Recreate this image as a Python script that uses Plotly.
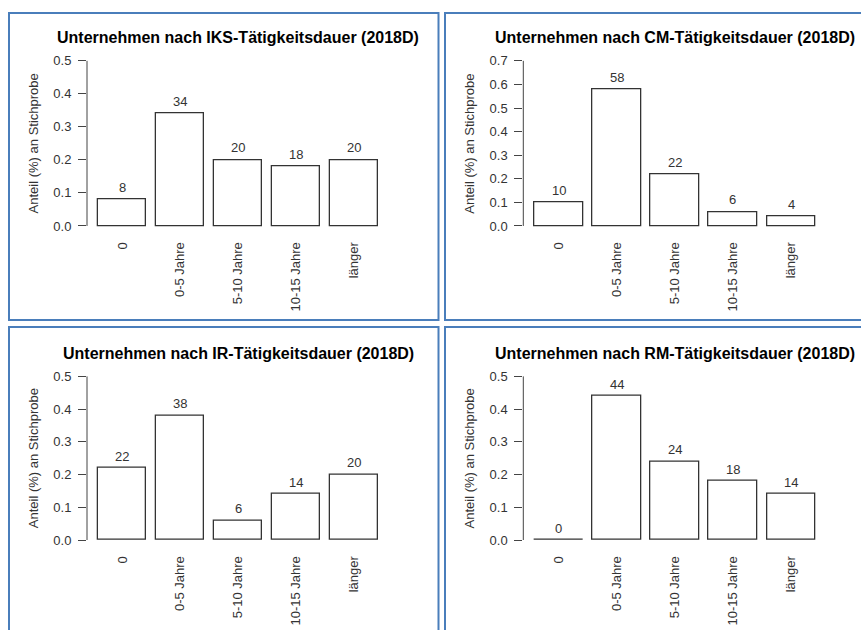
import plotly.graph_objects as go

W, H = 861, 630

categories = ["0", "0-5 Jahre", "5-10 Jahre", "10-15 Jahre", "länger"]
titles = [
    "Unternehmen nach IKS-Tätigkeitsdauer (2018D)",
    "Unternehmen nach CM-Tätigkeitsdauer (2018D)",
    "Unternehmen nach IR-Tätigkeitsdauer (2018D)",
    "Unternehmen nach RM-Tätigkeitsdauer (2018D)",
]
iks_pct = [8, 34, 20, 18, 20]
cm_pct = [10, 58, 22, 6, 4]
ir_pct = [22, 38, 6, 14, 20]
rm_pct = [0, 44, 24, 18, 14]
series = [iks_pct, cm_pct, ir_pct, rm_pct]
y_max = [0.5, 0.7, 0.5, 0.5]
y_title = "Anteil (%) an Stichprobe"

# pixel layout: plot regions (left, right, top, bottom) and panel frames
plot_boxes = [(87, 389, 53.4, 232.3), (523.3, 826.5, 53.4, 232.3),
              (87, 389, 370.0, 547.3), (523.3, 826.5, 370.0, 547.3)]
frames = [(9, 12, 438.5, 320), (445, 12, 875, 320),
          (9, 327, 438.5, 645), (445, 327, 875, 645)]

FONT = "Liberation Sans, Arial, sans-serif"
TXT = "#333333"
LINE = "#444444"
BORDER = "#4a7ebb"


def px(x):
    return x / W


def py(y):
    return 1 - y / H


fig = go.Figure()
shapes = []
annotations = []

for k in range(4):
    sfx = "" if k == 0 else str(k + 1)
    xa, ya = "x" + sfx, "y" + sfx
    l, r, t, b = plot_boxes[k]
    vals = [v / 100 for v in series[k]]
    ymax = y_max[k]

    fig.add_trace(go.Bar(
        x=categories, y=vals, xaxis=xa, yaxis=ya,
        width=1 / 1.2,
        marker=dict(color="white", line=dict(color="#333333", width=1.3)),
        showlegend=False, hoverinfo="x+y",
    ))

    ticks = [round(i * 0.1, 1) for i in range(int(round(ymax * 10)) + 1)]
    fig.layout["xaxis" + sfx] = dict(
        domain=[px(l), px(r)], anchor=ya, type="category",
        range=[-0.61, 4.61], showgrid=False, zeroline=False, showline=False,
        ticks="", tickangle=-90, tickfont=dict(family=FONT, size=13, color=TXT),
        ticklabelstandoff=6, fixedrange=True,
    )
    fig.layout["yaxis" + sfx] = dict(
        domain=[py(b), py(t)], anchor=xa,
        range=[-0.04 * ymax, 1.04 * ymax], showgrid=False, zeroline=False,
        showline=False, ticks="outside", ticklen=8, tickwidth=1, tickcolor=LINE,
        tickvals=ticks, ticktext=[f"{v:.1f}" for v in ticks],
        tickfont=dict(family=FONT, size=13, color=TXT),
        ticklabelstandoff=4, fixedrange=True,
    )

    # y axis line from 0 to max tick (R style)
    shapes.append(dict(type="line", xref=xa + " domain", yref=ya,
                       x0=0, x1=0, y0=0, y1=ymax,
                       line=dict(color=LINE, width=1)))

    # value labels above bars
    for c, v, p in zip(categories, vals, series[k]):
        annotations.append(dict(x=c, y=v, xref=xa, yref=ya, text=str(p),
                                showarrow=False, yanchor="middle", yshift=12,
                                font=dict(family=FONT, size=13, color=TXT)))

    # title
    annotations.append(dict(x=px((l + r) / 2), y=py(t - 16.5), xref="paper", yref="paper",
                            text="<b>" + titles[k] + "</b>", showarrow=False,
                            xanchor="center", yanchor="middle",
                            font=dict(family=FONT, size=16, color="#000000")))
    # y axis title
    annotations.append(dict(x=px(l - 54), y=py((t + b) / 2), xref="paper", yref="paper",
                            text=y_title, showarrow=False, textangle=-90,
                            xanchor="center", yanchor="middle",
                            font=dict(family=FONT, size=13, color=TXT)))

    # panel frame
    fx0, fy0, fx1, fy1 = frames[k]
    shapes.append(dict(type="rect", xref="paper", yref="paper",
                       x0=px(fx0), x1=px(fx1), y0=py(fy1), y1=py(fy0),
                       line=dict(color=BORDER, width=2), fillcolor="rgba(0,0,0,0)"))

fig.update_layout(
    width=W, height=H, margin=dict(l=0, r=0, t=0, b=0),
    paper_bgcolor="white", plot_bgcolor="white",
    shapes=shapes, annotations=annotations, bargap=0,
)

fig.write_html(
    "out.html",
    config={"displayModeBar": False},
    post_script="document.body.style.margin='0px';document.body.style.overflow='hidden';",
)
